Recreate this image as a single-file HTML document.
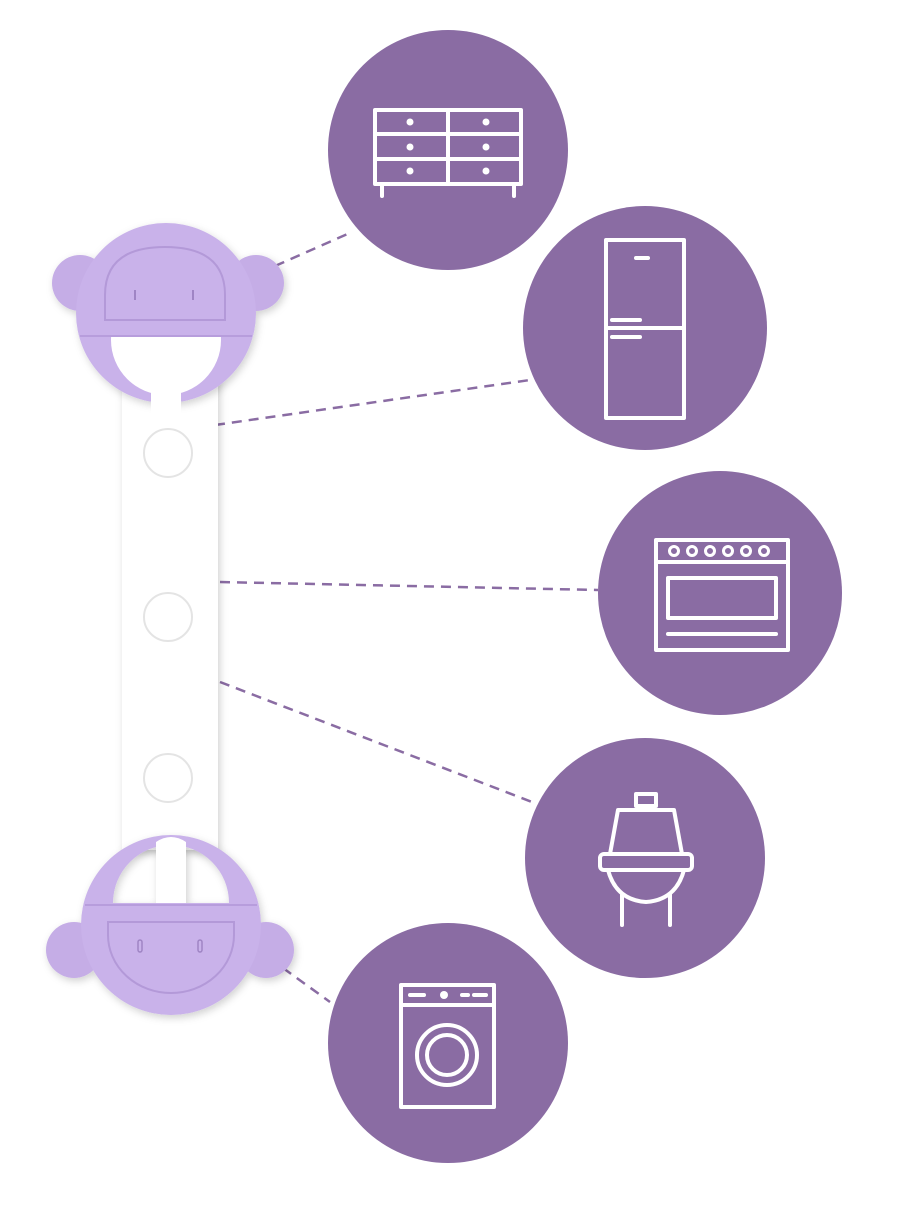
<!DOCTYPE html>
<html><head><style>html,body{margin:0;padding:0;background:#fff}</style></head>
<body>
<svg width="900" height="1200" viewBox="0 0 900 1200" xmlns="http://www.w3.org/2000/svg">
<defs>
<filter id="sh" x="-20%" y="-20%" width="140%" height="140%"><feDropShadow dx="2" dy="3" stdDeviation="4" flood-color="#000" flood-opacity="0.18"/></filter>
<clipPath id="below"><rect x="0" y="336" width="400" height="200"/></clipPath>
</defs>
<g stroke="#8a6ca3" stroke-width="2.5" stroke-dasharray="10,7" fill="none">
<line x1="275" y1="266" x2="352" y2="232"/>
<line x1="215" y1="425" x2="530" y2="380"/>
<line x1="220" y1="582" x2="598" y2="590"/>
<line x1="220" y1="682" x2="532" y2="802"/>
<line x1="283" y1="968" x2="330" y2="1002"/>
</g>
<rect x="122" y="370" width="96" height="480" fill="#fff" filter="url(#sh)"/>
<g fill="#fff" stroke="#e4e4e4" stroke-width="2">
<circle cx="168" cy="453" r="24"/><circle cx="168" cy="617" r="24"/><circle cx="168" cy="778" r="24"/>
</g>
<!-- top head -->
<g filter="url(#sh)">
<circle cx="80" cy="283" r="28" fill="#c5ade6"/>
<circle cx="256" cy="283" r="28" fill="#c5ade6"/>
<circle cx="166" cy="313" r="90" fill="#c9b2ea"/>
</g>
<circle cx="166" cy="340" r="55" fill="#fff" clip-path="url(#below)"/>
<rect x="151" y="380" width="30" height="40" fill="#fff"/>
<path d="M80,336 L252,336" stroke="#b79ddc" stroke-width="2"/>
<path d="M105,320 L105,295 Q105,247 165,247 Q225,247 225,295 L225,320 Z" fill="none" stroke="#b399d8" stroke-width="2"/>
<line x1="135" y1="290" x2="135" y2="300" stroke="#9f85c4" stroke-width="2"/>
<line x1="193" y1="290" x2="193" y2="300" stroke="#9f85c4" stroke-width="2"/>
<!-- bottom head -->
<g filter="url(#sh)">
<circle cx="74" cy="950" r="28" fill="#c5ade6"/>
<circle cx="266" cy="950" r="28" fill="#c5ade6"/>
<path d="M81,925 A90,90 0 1 0 261,925 A90,90 0 1 0 81,925 Z M113,903 A58,58 0 0 1 229,903 Z" fill="#c9b2ea" fill-rule="evenodd"/>
<path d="M156,903 L156,842 Q171,832 186,842 L186,903 Z" fill="#fff"/>
</g>
<path d="M85,905 L257,905" stroke="#b79ddc" stroke-width="2"/>
<path d="M108,922 L234,922 L234,935 A63,58 0 0 1 108,935 Z" fill="none" stroke="#b399d8" stroke-width="2"/>
<rect x="138" y="940" width="4" height="12" rx="2" fill="none" stroke="#9f85c4" stroke-width="1.5"/>
<rect x="198" y="940" width="4" height="12" rx="2" fill="none" stroke="#9f85c4" stroke-width="1.5"/>
<g fill="#8a6ca3">
<circle cx="448" cy="150" r="120"/>
<circle cx="645" cy="328" r="122"/>
<circle cx="720" cy="593" r="122"/>
<circle cx="645" cy="858" r="120"/>
<circle cx="448" cy="1043" r="120"/>
</g>
<g stroke="#fff" stroke-width="4" fill="none" stroke-linecap="round" stroke-linejoin="round">
<rect x="375" y="110" width="146" height="74"/>
<line x1="448" y1="110" x2="448" y2="184"/>
<line x1="375" y1="134" x2="521" y2="134"/><line x1="375" y1="159" x2="521" y2="159"/>
<line x1="382" y1="184" x2="382" y2="196"/><line x1="514" y1="184" x2="514" y2="196"/>
<rect x="606" y="240" width="78" height="178"/>
<line x1="606" y1="328" x2="684" y2="328"/>
<line x1="636" y1="258" x2="648" y2="258"/>
<line x1="612" y1="320" x2="640" y2="320"/><line x1="612" y1="337" x2="640" y2="337"/>
<rect x="656" y="540" width="132" height="110"/>
<line x1="656" y1="562" x2="788" y2="562"/>
<rect x="668" y="578" width="108" height="40"/>
<line x1="668" y1="634" x2="776" y2="634"/>
<rect x="600" y="854" width="92" height="16" rx="4"/>
<path d="M610,854 L618,810 L674,810 L682,854"/>
<rect x="636" y="794" width="20" height="12"/>
<path d="M608,870 Q616,900 646,902 Q676,900 684,870"/>
<line x1="622" y1="895" x2="622" y2="925"/><line x1="670" y1="895" x2="670" y2="925"/>
<rect x="401" y="985" width="93" height="122"/>
<line x1="401" y1="1005" x2="494" y2="1005"/>
<circle cx="447" cy="1055" r="30"/><circle cx="447" cy="1055" r="20"/>
<line x1="410" y1="995" x2="424" y2="995"/>
<line x1="462" y1="995" x2="468" y2="995"/><line x1="474" y1="995" x2="486" y2="995"/>
</g>
<g fill="#fff">
<circle cx="410" cy="122" r="3.5"/><circle cx="410" cy="147" r="3.5"/><circle cx="410" cy="171" r="3.5"/>
<circle cx="486" cy="122" r="3.5"/><circle cx="486" cy="147" r="3.5"/><circle cx="486" cy="171" r="3.5"/>
<circle cx="444" cy="995" r="4"/>
</g>
<g fill="none" stroke="#fff" stroke-width="3">
<circle cx="674" cy="551" r="4.5"/><circle cx="692" cy="551" r="4.5"/><circle cx="710" cy="551" r="4.5"/>
<circle cx="728" cy="551" r="4.5"/><circle cx="746" cy="551" r="4.5"/><circle cx="764" cy="551" r="4.5"/>
</g>
</svg>
</body></html>
